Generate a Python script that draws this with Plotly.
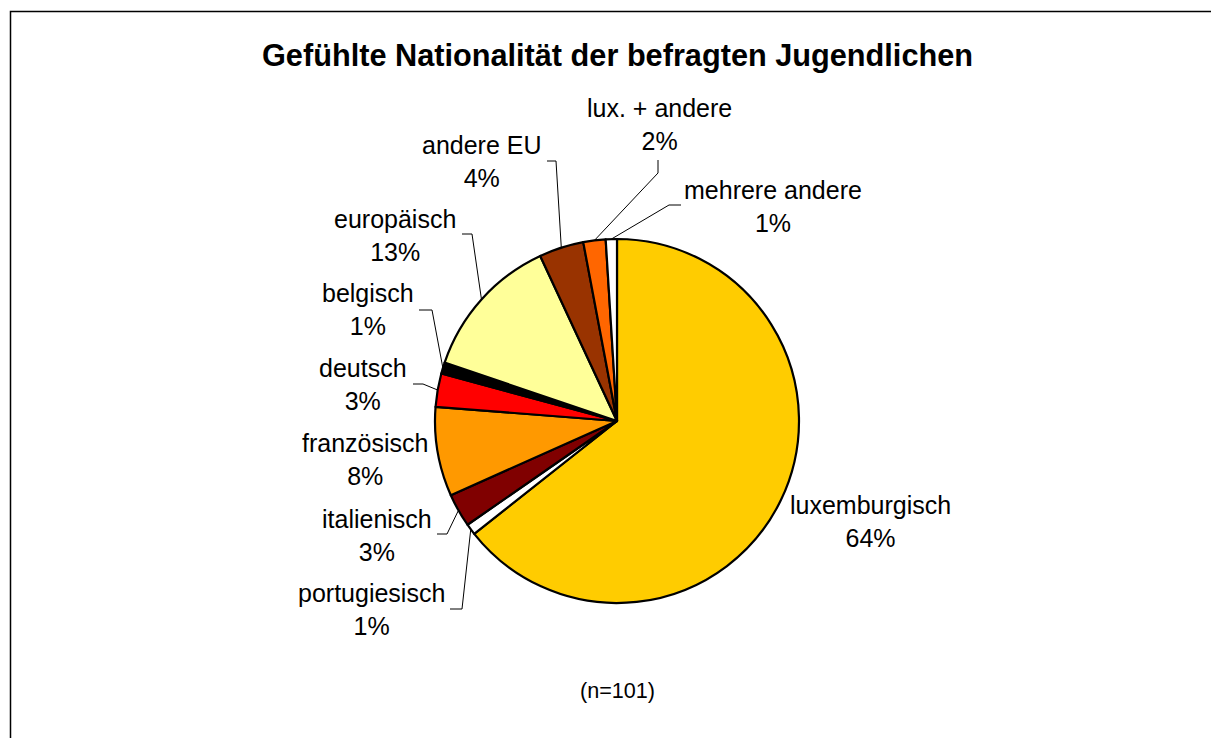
import math
import plotly.graph_objects as go

# ---- data ----
categories = ["luxemburgisch", "portugiesisch", "italienisch", "französisch", "deutsch",
              "belgisch", "europäisch", "andere EU", "lux. + andere", "mehrere andere"]
counts = [65, 1, 3, 8, 3, 1, 13, 4, 2, 1]
colors = ["#FFCC00", "#FFFFFF", "#800000", "#FF9900", "#FF0000",
          "#000000", "#FFFF99", "#993300", "#FF6600", "#FFFFFF"]
title_text = "Gefühlte Nationalität der befragten Jugendlichen"
note_text = "(n=101)"

# ---- layout (pixel geometry) ----
W, H = 1211, 738
CX, CY, R = 617, 421, 182
# label block centres (px) and optional leader elbow (px) for each category
label_pos = {
    "luxemburgisch": (870, 521, None),
    "portugiesisch": (371, 609, [(450, 609), (462, 609)]),
    "italienisch": (377, 535, [(437, 534), (447, 534)]),
    "französisch": (365, 460, None),
    "deutsch": (363, 384, [(413, 384), (423, 384)]),
    "belgisch": (368, 310, [(419, 310), (432, 310)]),
    "europäisch": (395, 235, [(462, 234), (472, 234)]),
    "andere EU": (482, 161, [(547, 161), (556, 161)]),
    "lux. + andere": (659, 125, [(658, 160), (658, 173)]),
    "mehrere andere": (773, 206, [(681, 205), (669, 205)]),
}

def px(x):
    return x / W

def py(y):
    return 1 - y / H

fig = go.Figure()
fig.add_trace(go.Pie(
    labels=categories, values=counts, sort=False, direction="clockwise", rotation=0,
    marker=dict(colors=colors, line=dict(color="#000000", width=2.2)),
    textinfo="none", hoverinfo="label+percent", showlegend=False,
    domain=dict(x=[px(CX - R), px(CX + R)], y=[py(CY + R), py(CY - R)]),
))

total = sum(counts)
annotations = []
shapes = []
cum = 0
font = "Liberation Sans, Arial, sans-serif"
for cat, v in zip(categories, counts):
    mid = (cum + v / 2) / total
    cum += v
    ang = 2 * math.pi * mid
    ex, ey = CX + R * math.sin(ang), CY - R * math.cos(ang)
    lx, ly, elbow = label_pos[cat]
    pct = round(v / total * 100)
    annotations.append(dict(
        x=px(lx), y=py(ly), xref="paper", yref="paper", showarrow=False,
        text=f"{cat}<br>{pct}%", align="center", xanchor="center", yanchor="middle",
        font=dict(family=font, size=25, color="#000000"),
    ))
    if elbow:
        pts = elbow + [(ex, ey)]
        path = "M " + " L ".join(f"{px(a)},{py(b)}" for a, b in pts)
        shapes.append(dict(type="path", xref="paper", yref="paper", path=path,
                           line=dict(color="#000000", width=1)))

annotations.append(dict(
    x=px(617), y=py(55), xref="paper", yref="paper", showarrow=False,
    text=f"<b>{title_text}</b>", xanchor="center", yanchor="middle",
    font=dict(family=font, size=30.7, color="#000000"),
))
annotations.append(dict(
    x=px(617), y=py(690), xref="paper", yref="paper", showarrow=False,
    text=note_text, xanchor="center", yanchor="middle",
    font=dict(family=font, size=21.6, color="#000000"),
))

# outer chart frame
shapes.append(dict(type="rect", xref="paper", yref="paper",
                   x0=px(10.5), x1=px(1215), y0=py(745), y1=py(11.5),
                   line=dict(color="#000000", width=1.5), fillcolor="rgba(0,0,0,0)"))

fig.update_layout(
    width=W, height=H, margin=dict(l=0, r=0, t=0, b=0),
    paper_bgcolor="#FFFFFF", plot_bgcolor="#FFFFFF",
    annotations=annotations, shapes=shapes,
)
fig.write_html("out.html")
